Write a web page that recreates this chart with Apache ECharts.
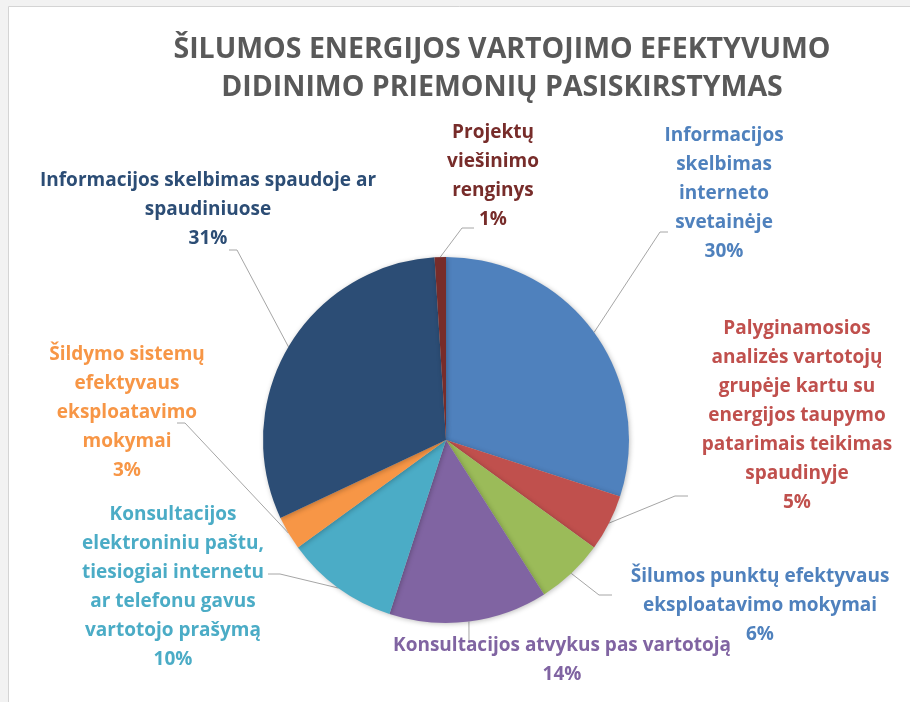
<!DOCTYPE html>
<html>
<head>
<meta charset="utf-8">
<script src="https://cdn.jsdelivr.net/npm/echarts@6/dist/echarts.min.js"></script>
<style>
  html, body { margin: 0; padding: 0; background: #f2f2f2; }
  #chart { width: 910px; height: 702px; }
</style>
</head>
<body>
<div id="chart"></div>
<script>
// data, clockwise from 12 o'clock
const categories = [
  'Informacijos\nskelbimas\ninterneto\nsvetainėje',
  'Palyginamosios\nanalizės vartotojų\ngrupėje kartu su\nenergijos taupymo\npatarimais teikimas\nspaudinyje',
  'Šilumos punktų efektyvaus\neksploatavimo mokymai',
  'Konsultacijos atvykus pas vartotoją',
  'Konsultacijos\nelektroniniu paštu,\ntiesiogiai internetu\nar telefonu gavus\nvartotojo prašymą',
  'Šildymo sistemų\nefektyvaus\neksploatavimo\nmokymai',
  'Informacijos skelbimas spaudoje ar\nspaudiniuose',
  'Projektų\nviešinimo\nrenginys'
]
const shares = [30, 5, 6, 14, 10, 3, 31, 1]

const sliceColors = ['#4f81bd', '#c0504d', '#9bbb59', '#8064a2', '#4bacc6', '#f79646', '#2c4d75', '#772c2a']
const labelColors = ['#4f81bd', '#c0504d', '#4f81bd', '#8064a2', '#4bacc6', '#f79646', '#2c4d75', '#772c2a']

// label placement: [centerX, topY, bendX, bendY, endX, endY]
const labelPos = [
  [724, 121, 660, 232, 668, 232],
  [797, 314, 675, 496, 688, 496],
  [760, 562, 599, 595, 612, 595],
  [562, 631, 469, 643, 469, 643],
  [173, 500, 280, 574, 268, 574],
  [127, 340, 185, 423, 177, 423],
  [208, 166, 237, 250, 229, 250],
  [493, 118, 462, 228, 474, 228]
]

const chart = echarts.init(document.getElementById('chart'))

chart.setOption({
  backgroundColor: '#f2f2f2',
  animation: false,
  title: {
    text: 'ŠILUMOS ENERGIJOS VARTOJIMO EFEKTYVUMO\nDIDINIMO PRIEMONIŲ PASISKIRSTYMAS',
    left: 497,
    top: 26,
    textAlign: 'center',
    textStyle: {
      fontFamily: 'Open Sans',
      fontWeight: 'bold',
      fontSize: 28.5,
      lineHeight: 38,
      color: '#595959'
    }
  },
  graphic: [{
    type: 'rect',
    silent: true,
    z: -10,
    shape: { x: 8.5, y: 6.5, width: 910, height: 710 },
    style: { fill: '#ffffff', stroke: '#d4d4d4', lineWidth: 1 }
  }],
  series: [{
    type: 'pie',
    center: [446, 440],
    radius: 183,
    startAngle: 90,
    clockwise: true,
    percentPrecision: 0,
    data: categories.map((name, i) => ({
      name: name,
      value: shares[i],
      itemStyle: { color: sliceColors[i] },
      label: { color: labelColors[i] }
    })),
    itemStyle: {
      shadowBlur: 5,
      shadowColor: 'rgba(0,0,0,0.25)',
      shadowOffsetX: 1,
      shadowOffsetY: 1
    },
    label: {
      show: true,
      formatter: '{b}\n{d}%',
      fontFamily: 'Open Sans',
      fontWeight: 'bold',
      fontSize: 19,
      lineHeight: 29,
      align: 'center',
      overflow: 'none'
    },
    labelLine: {
      show: true,
      lineStyle: { color: '#a6a6a6', width: 1 }
    },
    labelLayout: function (params) {
      const p = labelPos[params.dataIndex]
      const anchor = params.labelLinePoints ? params.labelLinePoints[0] : [p[2], p[3]]
      return {
        x: p[0],
        y: p[1],
        align: 'center',
        verticalAlign: 'top',
        labelLinePoints: [anchor, [p[2], p[3]], [p[4], p[5]]]
      }
    }
  }]
})

window.addEventListener('resize', () => {
  chart.resize()
})
</script>
</body>
</html>
